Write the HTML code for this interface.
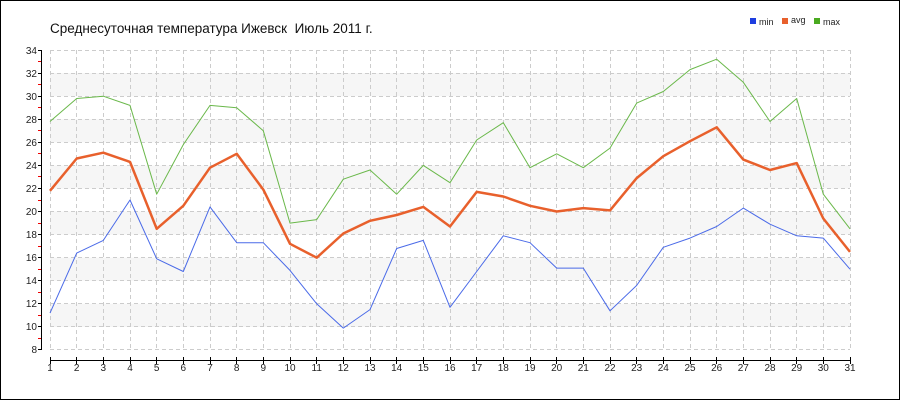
<!DOCTYPE html><html><head><meta charset="utf-8"><style>body{margin:0}svg{display:block}</style></head><body>
<svg width="900" height="400" xmlns="http://www.w3.org/2000/svg" font-family="Liberation Sans, sans-serif">
<rect x="0.5" y="0.5" width="899" height="399" fill="#fff" stroke="#000"/>
<text x="50" y="33" font-size="13.5" fill="#111" xml:space="preserve">Среднесуточная температура Ижевск  Июль 2011 г.</text>
<g font-size="9" fill="#222"><rect x="750" y="18" width="6" height="6" fill="#1e3ee0"/><text x="759" y="25">min</text>
<rect x="782" y="18" width="6" height="6" fill="#e8602c"/><text x="791" y="23">avg</text>
<rect x="814" y="18" width="6" height="6" fill="#4aaa20"/><text x="823" y="25">max</text></g>
<g fill="#f6f6f6">
<rect x="50" y="73.1" width="800" height="23.1"/><rect x="50" y="119.2" width="800" height="23.1"/><rect x="50" y="165.4" width="800" height="23.1"/><rect x="50" y="211.5" width="800" height="23.1"/><rect x="50" y="257.7" width="800" height="23.1"/><rect x="50" y="303.8" width="800" height="23.1"/>
</g>
<path stroke="#ccc" stroke-dasharray="4,3" fill="none" d="M50 50.5H850M50 73.5H850M50 96.5H850M50 119.5H850M50 142.5H850M50 165.5H850M50 188.5H850M50 211.5H850M50 234.5H850M50 257.5H850M50 280.5H850M50 303.5H850M50 326.5H850M50 349.5H850
M50.5 50V350M76.5 50V350M103.5 50V350M130.5 50V350M156.5 50V350M183.5 50V350M210.5 50V350M236.5 50V350M263.5 50V350M290.5 50V350M316.5 50V350M343.5 50V350M370.5 50V350M396.5 50V350M423.5 50V350M450.5 50V350M476.5 50V350M503.5 50V350M530.5 50V350M556.5 50V350M583.5 50V350M610.5 50V350M636.5 50V350M663.5 50V350M690.5 50V350M716.5 50V350M743.5 50V350M770.5 50V350M796.5 50V350M823.5 50V350M850.5 50V350"/>
<path stroke="#000" fill="none" d="M41.5 50V350M38 50.5H42M38 73.5H42M38 96.5H42M38 119.5H42M38 142.5H42M38 165.5H42M38 188.5H42M38 211.5H42M38 234.5H42M38 257.5H42M38 280.5H42M38 303.5H42M38 326.5H42M38 349.5H42"/>
<path stroke="#e00" fill="none" d="M38 61.5H41M38 84.5H41M38 107.5H41M38 130.5H41M38 153.5H41M38 176.5H41M38 200.5H41M38 223.5H41M38 246.5H41M38 269.5H41M38 292.5H41M38 315.5H41M38 338.5H41"/>
<g font-size="10" fill="#222" text-anchor="end">
<text x="37" y="54">34</text><text x="37" y="77">32</text><text x="37" y="100">30</text><text x="37" y="123">28</text><text x="37" y="146">26</text><text x="37" y="169">24</text><text x="37" y="192">22</text><text x="37" y="215">20</text><text x="37" y="238">18</text><text x="37" y="261">16</text><text x="37" y="284">14</text><text x="37" y="307">12</text><text x="37" y="330">10</text><text x="37" y="353">8</text>
</g>
<path stroke="#000" fill="none" d="M50 360.5H851M50.5 357V364M76.5 357V364M103.5 357V364M130.5 357V364M156.5 357V364M183.5 357V364M210.5 357V364M236.5 357V364M263.5 357V364M290.5 357V364M316.5 357V364M343.5 357V364M370.5 357V364M396.5 357V364M423.5 357V364M450.5 357V364M476.5 357V364M503.5 357V364M530.5 357V364M556.5 357V364M583.5 357V364M610.5 357V364M636.5 357V364M663.5 357V364M690.5 357V364M716.5 357V364M743.5 357V364M770.5 357V364M796.5 357V364M823.5 357V364M850.5 357V364"/>
<g font-size="10" fill="#222" text-anchor="middle">
<text x="50" y="371">1</text><text x="76.7" y="371">2</text><text x="103.3" y="371">3</text><text x="130" y="371">4</text><text x="156.7" y="371">5</text><text x="183.3" y="371">6</text><text x="210" y="371">7</text><text x="236.7" y="371">8</text><text x="263.3" y="371">9</text><text x="290" y="371">10</text><text x="316.7" y="371">11</text><text x="343.3" y="371">12</text><text x="370" y="371">13</text><text x="396.7" y="371">14</text><text x="423.3" y="371">15</text><text x="450" y="371">16</text><text x="476.7" y="371">17</text><text x="503.3" y="371">18</text><text x="530" y="371">19</text><text x="556.7" y="371">20</text><text x="583.3" y="371">21</text><text x="610" y="371">22</text><text x="636.7" y="371">23</text><text x="663.3" y="371">24</text><text x="690" y="371">25</text><text x="716.7" y="371">26</text><text x="743.3" y="371">27</text><text x="770" y="371">28</text><text x="796.7" y="371">29</text><text x="823.3" y="371">30</text><text x="850" y="371">31</text>
</g>
<g fill="none" stroke-linejoin="round">
<polyline stroke="#6ab84a" stroke-width="1" points="50,121.5 76.7,98.5 103.3,96.2 130,105.4 156.7,194.2 183.3,144.6 210,105.4 236.7,107.7 263.3,130.8 290,223.1 316.7,219.6 343.3,179.2 370,170 396.7,194.2 423.3,165.4 450,182.7 476.7,140 503.3,122.7 530,167.7 556.7,153.8 583.3,167.7 610,148.1 636.7,103.1 663.3,91.5 690,69.6 716.7,59.2 743.3,82.3 770,121.5 796.7,98.5 823.3,194.2 850,228.8"/>
<polyline stroke="#4a6ae8" stroke-width="1" points="50,313.1 76.7,253.1 103.3,240.4 130,200 156.7,258.8 183.3,271.5 210,206.9 236.7,242.7 263.3,242.7 290,270.4 316.7,303.8 343.3,328.1 370,309.6 396.7,248.5 423.3,240.4 450,307.3 476.7,271.5 503.3,235.8 530,242.7 556.7,268.1 583.3,268.1 610,310.8 636.7,285.4 663.3,247.3 690,238.1 716.7,226.5 743.3,208.1 770,224.2 796.7,235.8 823.3,238.1 850,269.2"/>
<polyline stroke="#e8602c" stroke-width="2.5" points="50,190.8 76.7,158.5 103.3,152.7 130,161.9 156.7,228.8 183.3,205.8 210,167.7 236.7,153.8 263.3,189.6 290,243.8 316.7,257.7 343.3,233.5 370,220.8 396.7,215 423.3,206.9 450,226.5 476.7,191.9 503.3,196.5 530,205.8 556.7,211.5 583.3,208.1 610,210.4 636.7,178.1 663.3,156.2 690,141.2 716.7,127.3 743.3,159.6 770,170 796.7,163.1 823.3,218.5 850,251.9"/>
</g>
</svg></body></html>
